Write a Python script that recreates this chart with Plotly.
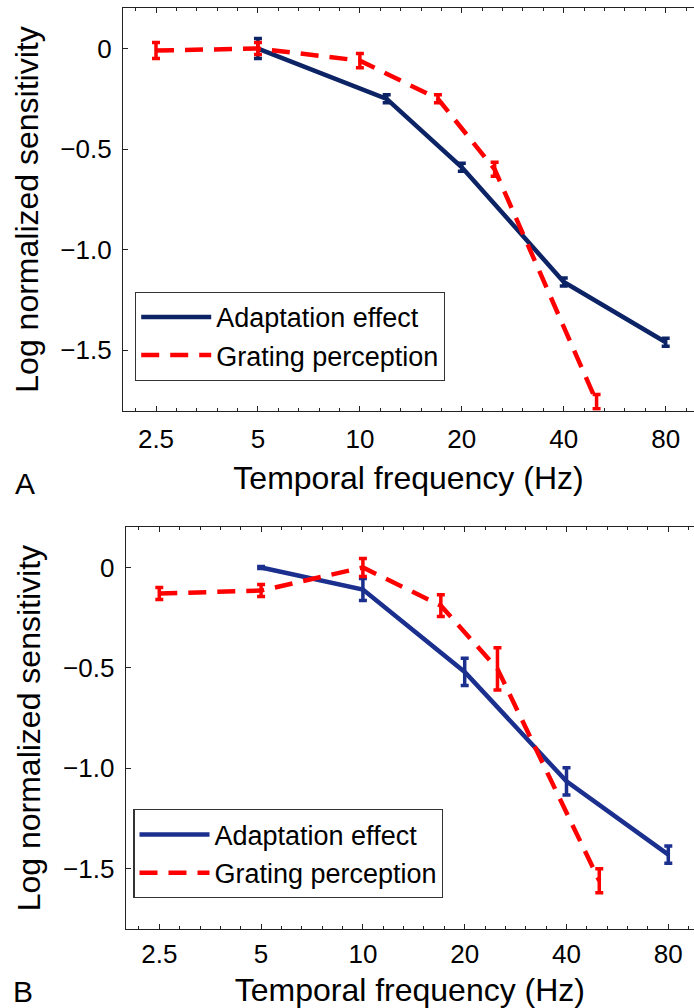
import math
import plotly.graph_objects as go

# ---------- data ----------
# Panel A
a_adapt_x = [5, 12, 20, 40, 80]
a_adapt_y = [0.0, -0.25, -0.59, -1.16, -1.46]
a_adapt_err = [0.05, 0.02, 0.02, 0.02, 0.02]

a_grat_x = [2.5, 5, 10, 17, 25, 50]
a_grat_y = [-0.01, 0.0, -0.06, -0.25, -0.60, -1.755]
a_grat_err = [0.04, 0.03, 0.035, 0.02, 0.035, 0.035]

# Panel B
b_adapt_x = [5, 10, 20, 40, 80]
b_adapt_y = [0.0, -0.11, -0.52, -1.065, -1.43]
b_adapt_err = [0.005, 0.055, 0.068, 0.068, 0.043]

b_grat_x = [2.5, 5, 10, 17, 25, 50]
b_grat_y = [-0.13, -0.115, 0.0, -0.19, -0.505, -1.56]
b_grat_err = [0.03, 0.03, 0.045, 0.054, 0.105, 0.06]

x_tickvals = [2.5, 5, 10, 20, 40, 80]
x_ticktext = ["2.5", "5", "10", "20", "40", "80"]
y_tickvals = [0, -0.5, -1.0, -1.5]
y_ticktext = ["0", "\u22120.5", "\u22121.0", "\u22121.5"]

series_names = ["Adaptation effect", "Grating perception"]
panel_labels = ["A", "B"]

# ---------- style ----------
W, H = 694, 1008
FONT = "Liberation Sans, Arial, Helvetica, sans-serif"
RED = "#ff0000"
NAVY_A = "#0c2366"
NAVY_B = "#1b2f8e"

fig = go.Figure()

def add_panel(xs_a, ys_a, es_a, xs_g, ys_g, es_g, navy, xa, ya, leg):
    fig.add_trace(go.Scatter(
        x=xs_a, y=ys_a, mode="lines", name=series_names[0],
        line=dict(color=navy, width=4.5),
        error_y=dict(type="data", array=es_a, color=navy, thickness=3.5, width=4),
        xaxis=xa, yaxis=ya, legend=leg))
    fig.add_trace(go.Scatter(
        x=xs_g, y=ys_g, mode="lines", name=series_names[1],
        line=dict(color=RED, width=4.5, dash="18px,11px"),
        error_y=dict(type="data", array=es_g, color=RED, thickness=3.5, width=4),
        xaxis=xa, yaxis=ya, legend=leg))

add_panel(a_adapt_x, a_adapt_y, a_adapt_err, a_grat_x, a_grat_y, a_grat_err,
          NAVY_A, "x", "y", "legend")
add_panel(b_adapt_x, b_adapt_y, b_adapt_err, b_grat_x, b_grat_y, b_grat_err,
          NAVY_B, "x2", "y2", "legend2")

# pixel positions of the 2.5 Hz and 80 Hz ticks in the reference
x_left_tick = {"y": 156.0, "y2": 159.3}
x_right_tick = {"y": 665.7, "y2": 668.3}

def xaxis_cfg(dom, anchor, lab_standoff, title_standoff):
    left_px = dom[0] * W
    right_px = dom[1] * W
    ppo = (x_right_tick[anchor] - x_left_tick[anchor]) / 5.0  # pixels per octave
    lo = math.log10(2.5) - math.log10(2) * ((x_left_tick[anchor] - left_px) / ppo)
    hi = math.log10(80) + math.log10(2) * ((right_px - x_right_tick[anchor]) / ppo)
    return dict(
        type="log", domain=dom, anchor=anchor, range=[lo, hi],
        tickmode="array", tickvals=x_tickvals, ticktext=x_ticktext,
        ticks="inside", ticklen=5, tickwidth=1, tickcolor="#222",
        showline=True, linecolor="#222", linewidth=1.2, mirror="ticks",
        showgrid=False, zeroline=False,
        tickfont=dict(family=FONT, size=26, color="black"),
        ticklabelstandoff=lab_standoff,
        minor=dict(ticks="inside", ticklen=3, tickcolor="#222",
                   tick0=math.log10(2.5), dtick=math.log10(2) / 5, showgrid=False),
        title=dict(text="Temporal frequency (Hz)", standoff=title_standoff,
                   font=dict(family=FONT, size=32, color="black")),
    )

def yaxis_cfg(dom, anchor):
    return dict(
        domain=dom, anchor=anchor, range=[-1.8, 0.2],
        tickmode="array", tickvals=y_tickvals, ticktext=y_ticktext,
        ticks="inside", ticklen=5, tickwidth=1, tickcolor="#222",
        showline=True, linecolor="#222", linewidth=1.2, mirror=False,
        showgrid=False, zeroline=False,
        tickfont=dict(family=FONT, size=26, color="black"),
        ticklabelstandoff=5,
        title=dict(text="Log normalized sensitivity", standoff=12,
                   font=dict(family=FONT, size=32, color="black")),
    )

leg_common = dict(
    bgcolor="white", bordercolor="#333", borderwidth=1.2,
    font=dict(family=FONT, size=27, color="black"),
    xanchor="left", yanchor="top", itemwidth=70,
)

fig.update_layout(
    width=W, height=H,
    margin=dict(l=0, r=0, t=0, b=0),
    paper_bgcolor="white", plot_bgcolor="white",
    font=dict(family=FONT, color="black"),
    xaxis=xaxis_cfg([123 / W, 1.0], "y", 5, 13),
    yaxis=yaxis_cfg([1 - 410.7 / H, 1 - 8.3 / H], "x"),
    xaxis2=xaxis_cfg([125.7 / W, 1.0], "y2", 2, 15),
    yaxis2=yaxis_cfg([1 - 929 / H, 1 - 527.3 / H], "x2"),
    legend=dict(x=135 / W, y=1 - 291.7 / H, **leg_common),
    legend2=dict(x=133.3 / W, y=1 - 809.3 / H, **leg_common),
    showlegend=True,
)

for lbl, (px, py) in zip(panel_labels, [(25, 483), (23, 991)]):
    fig.add_annotation(text=lbl, x=px / W, y=1 - py / H, xref="paper", yref="paper",
                       showarrow=False, xanchor="center", yanchor="middle",
                       font=dict(family=FONT, size=30, color="black"))

fig.write_html("out.html",
               config={"displayModeBar": False},
               post_script="document.body.style.margin='0';document.body.style.overflow='hidden';")
